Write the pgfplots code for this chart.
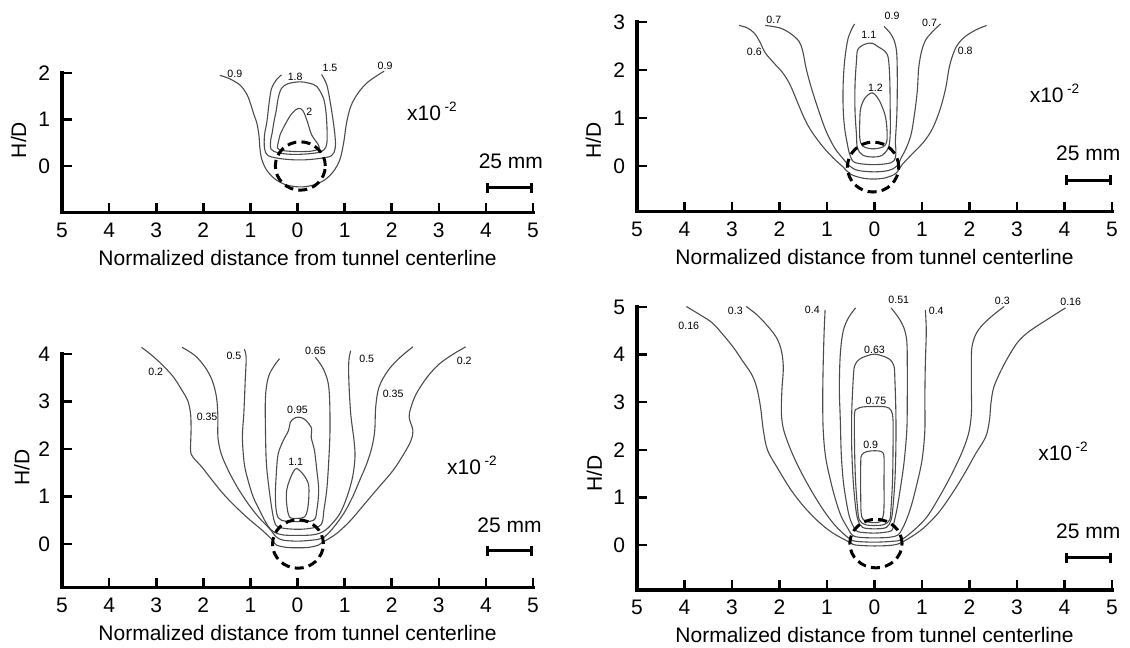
\documentclass[border=0pt]{standalone}
\usepackage{fontspec}
\setmainfont{Liberation Sans}
\usepackage{pgfplots}
\pgfplotsset{compat=1.18}
\usetikzlibrary{arrows.meta}

\pgfplotsset{
  panel/.style={
    scale only axis,
    xmin=-5, xmax=5,
    axis x line=bottom, axis y line=left,
    axis line style={-, line width=1.7pt, line cap=rect},
    xtick={-5,...,5},
    xticklabels={5,4,3,2,1,0,1,2,3,4,5},
    tick align=inside,
    major tick length=4.8pt,
    every tick/.style={black, line width=1.3pt},
    minor tick num=0,
    tick label style={font=\fontsize{10.5}{12}\selectfont},
    /pgf/number format/assume math mode=true,
    xticklabel style={yshift=-1.5pt},
    yticklabel style={xshift=-2.5pt},
    xlabel={Normalized distance from tunnel centerline},
    xlabel style={at={(axis description cs:0.5,0)}, anchor=center, yshift=-22.6pt},
    ylabel={H/D},
    label style={font=\fontsize{10.5}{12}\selectfont},
    clip=false,
  },
  contour/.style={black!70, line width=0.55pt, smooth, tension=0.55, mark=none, forget plot},
  scalebar/.style={black, line width=1.5pt, {Bar[width=5pt]}-{Bar[width=5pt]}, forget plot},
}
\tikzset{
  tunnel/.style={black, line width=1.5pt, dash pattern=on 4.5pt off 2.6pt},
  clab/.style={font=\fontsize{5.3}{6}\selectfont, inner sep=0pt, text=black},
  big/.style={font=\fontsize{10.5}{12}\selectfont, inner sep=0pt},
}
\newcommand{\scalefactor}[2]{\node[big, anchor=west] at (axis cs:#1,#2) {x10\,\raisebox{0.42em}{\fontsize{6.8}{7}\selectfont -2}};}

\begin{document}
\begin{tikzpicture}

% ---------------- top left ----------------
\begin{axis}[panel, at={(31pt,217.75pt)}, anchor=south west,
  width=235.5pt, height=69.75pt, ymin=-1, ymax=2, ytick={0,1,2},
  ylabel style={at={(axis description cs:-0.092,0.52)}, anchor=center}]
\addplot[contour] coordinates {(-1.65,1.95) (-1.45,1.88) (-1.22,1.74) (-1.08,1.55) (-1.01,1.38) (-0.93,1.12) (-0.87,0.95) (-0.82,0.67) (-0.80,0.40) (-0.76,0.15) (-0.66,-0.08) (-0.49,-0.27) (-0.26,-0.40) (0.03,-0.45) (0.30,-0.42) (0.56,-0.31) (0.76,-0.12) (0.90,0.14) (0.98,0.50) (1.04,0.92) (1.13,1.28) (1.28,1.56) (1.50,1.81) (1.84,2.04)};
\addplot[contour] coordinates {(-0.34,1.96) (-0.45,1.85) (-0.55,1.67) (-0.60,1.38) (-0.65,0.95) (-0.70,0.67) (-0.70,0.38) (-0.62,0.22) (-0.30,0.15) (0.08,0.13) (0.45,0.16) (0.72,0.22) (0.80,0.38) (0.80,0.60) (0.76,0.95) (0.69,1.40) (0.62,1.75) (0.51,1.97)};
\addplot[contour, smooth cycle] coordinates {(-0.34,1.67) (-0.20,1.77) (0.05,1.81) (0.25,1.78) (0.41,1.71) (0.55,1.46) (0.60,1.20) (0.62,0.95) (0.63,0.60) (0.60,0.40) (0.48,0.30) (0.20,0.26) (-0.10,0.25) (-0.40,0.28) (-0.56,0.36) (-0.57,0.55) (-0.54,0.70) (-0.50,0.95) (-0.45,1.20) (-0.41,1.46)};
\addplot[contour, smooth cycle] coordinates {(0.02,1.24) (0.12,1.18) (0.21,0.95) (0.30,0.67) (0.44,0.46) (0.45,0.37) (0.30,0.32) (0,0.31) (-0.30,0.33) (-0.42,0.38) (-0.40,0.55) (-0.37,0.67) (-0.27,0.88) (-0.12,1.13)};
\draw[tunnel] (axis cs:0.06,0) ellipse [x radius=0.53, y radius=0.52];
\node[clab] at (axis cs:-1.33,1.99) {0.9};
\node[clab] at (axis cs:-0.05,1.92) {1.8};
\node[clab] at (axis cs:0.69,2.10) {1.5};
\node[clab] at (axis cs:1.86,2.15) {0.9};
\node[clab] at (axis cs:0.25,1.17) {2};
\scalefactor{2.32}{1.17}
\node[big] at (axis cs:4.53,0.11) {25 mm};
\addplot[scalebar] coordinates {(4,-0.47) (5,-0.47)};
\end{axis}

% ---------------- top right ----------------
\begin{axis}[panel, at={(318.5pt,218.15pt)}, anchor=south west,
  width=237.5pt, height=94.8pt, ymin=-0.95, ymax=3, ytick={0,1,2,3},
  ylabel style={at={(axis description cs:-0.092,0.377)}, anchor=center}]
\addplot[contour] coordinates {(-2.85,2.93) (-2.68,2.88) (-2.53,2.77) (-2.42,2.60) (-2.30,2.36) (-2.12,2.15) (-1.93,1.94) (-1.78,1.70) (-1.63,1.35) (-1.48,1.00) (-1.33,0.73) (-1.10,0.42) (-0.87,0.17) (-0.66,-0.02) (-0.50,-0.17) (-0.25,-0.25) (0,-0.27) (0.25,-0.24) (0.45,-0.15) (0.59,0.04) (0.82,0.28) (1.05,0.52) (1.23,0.80) (1.39,1.21) (1.50,1.63) (1.57,2.04) (1.65,2.32) (1.75,2.53) (1.91,2.70) (2.14,2.84) (2.36,2.93)};
\addplot[contour] coordinates {(-2.30,2.93) (-2.00,2.88) (-1.78,2.77) (-1.59,2.60) (-1.51,2.39) (-1.44,2.04) (-1.33,1.63) (-1.17,1.14) (-1.02,0.73) (-0.84,0.38) (-0.65,0.14) (-0.52,0.0) (-0.35,-0.09) (0,-0.12) (0.30,-0.09) (0.47,0.0) (0.56,0.17) (0.67,0.38) (0.77,0.66) (0.84,1.07) (0.90,1.56) (0.93,2.04) (0.99,2.39) (1.08,2.63) (1.23,2.81) (1.39,2.96)};
\addplot[contour] coordinates {(-0.42,2.96) (-0.50,2.81) (-0.57,2.60) (-0.63,2.18) (-0.66,1.70) (-0.66,1.21) (-0.63,0.80) (-0.57,0.45) (-0.51,0.21) (-0.40,0.07) (0,0.03) (0.35,0.07) (0.44,0.18) (0.45,0.35) (0.44,0.52) (0.47,1.07) (0.48,1.70) (0.47,2.32) (0.42,2.60) (0.33,2.77) (0.20,2.91)};
\addplot[contour, smooth cycle] coordinates {(-0.05,2.56) (0.07,2.49) (0.22,2.39) (0.29,2.25) (0.32,1.84) (0.33,1.21) (0.33,0.66) (0.29,0.38) (0.15,0.22) (-0.05,0.19) (-0.25,0.23) (-0.36,0.38) (-0.38,0.66) (-0.41,1.14) (-0.41,1.70) (-0.38,2.18) (-0.35,2.43) (-0.20,2.54)};
\addplot[contour, smooth cycle] coordinates {(0.0,1.50) (0.11,1.35) (0.22,1.07) (0.26,0.80) (0.26,0.52) (0.18,0.40) (-0.05,0.36) (-0.25,0.42) (-0.31,0.59) (-0.31,0.94) (-0.29,1.21) (-0.20,1.42) (-0.08,1.52)};
\draw[tunnel] (axis cs:-0.03,-0.02) ellipse [x radius=0.54, y radius=0.52];
\node[clab] at (axis cs:-2.12,3.05) {0.7};
\node[clab] at (axis cs:-2.53,2.38) {0.6};
\node[clab] at (axis cs:-0.12,2.74) {1.1};
\node[clab] at (axis cs:0.37,3.12) {0.9};
\node[clab] at (axis cs:1.16,2.98) {0.7};
\node[clab] at (axis cs:1.91,2.40) {0.8};
\node[clab] at (axis cs:0.02,1.64) {1.2};
\scalefactor{3.26}{1.51}
\node[big] at (axis cs:4.5,0.27) {25 mm};
\addplot[scalebar] coordinates {(4,-0.30) (5,-0.30)};
\end{axis}

% ---------------- bottom left ----------------
\begin{axis}[panel, at={(31pt,30.15pt)}, anchor=south west,
  width=235.5pt, height=116.85pt, ymin=-0.92, ymax=4, ytick={0,1,2,3,4},
  ylabel style={at={(axis description cs:-0.085,0.516)}, anchor=center}]
\addplot[contour] coordinates {(-3.31,4.14) (-3.09,3.97) (-2.86,3.76) (-2.63,3.51) (-2.45,3.23) (-2.33,3.02) (-2.27,2.74) (-2.26,2.39) (-2.27,1.97) (-2.22,1.83) (-2.03,1.62) (-1.81,1.34) (-1.58,1.06) (-1.35,0.82) (-1.05,0.54) (-0.75,0.29) (-0.53,0.08) (-0.45,-0.02) (-0.25,-0.07) (0,-0.08) (0.25,-0.07) (0.45,-0.02) (0.56,0.05) (0.83,0.22) (1.13,0.50) (1.43,0.85) (1.73,1.20) (2.03,1.55) (2.26,1.90) (2.41,2.18) (2.45,2.39) (2.37,2.67) (2.41,2.88) (2.52,3.16) (2.75,3.51) (3.01,3.79) (3.31,4.00) (3.57,4.15)};
\addplot[contour] coordinates {(-2.45,4.14) (-2.18,3.97) (-1.96,3.72) (-1.81,3.44) (-1.72,3.09) (-1.69,2.67) (-1.69,2.25) (-1.62,1.90) (-1.47,1.55) (-1.28,1.20) (-1.05,0.85) (-0.83,0.57) (-0.60,0.33) (-0.45,0.15) (-0.30,0.08) (0,0.06) (0.30,0.08) (0.45,0.10) (0.56,0.14) (0.75,0.33) (0.98,0.64) (1.17,0.99) (1.32,1.34) (1.47,1.69) (1.58,2.04) (1.64,2.39) (1.66,2.88) (1.73,3.30) (1.92,3.65) (2.18,3.93) (2.45,4.15)};
\addplot[contour] coordinates {(-1.13,4.10) (-1.09,3.93) (-1.11,3.44) (-1.14,2.74) (-1.17,2.25) (-1.13,1.69) (-1.05,1.34) (-0.94,0.99) (-0.79,0.68) (-0.64,0.40) (-0.50,0.25) (-0.30,0.19) (0,0.18) (0.30,0.19) (0.48,0.23) (0.60,0.30) (0.71,0.40) (0.90,0.64) (1.05,0.99) (1.17,1.41) (1.22,1.83) (1.20,2.18) (1.13,2.74) (1.09,3.44) (1.09,3.86) (1.13,4.07)};
\addplot[contour] coordinates {(-0.38,3.90) (-0.49,3.76) (-0.62,3.51) (-0.68,3.09) (-0.68,2.39) (-0.66,1.69) (-0.60,1.13) (-0.54,0.71) (-0.49,0.47) (-0.42,0.36) (-0.20,0.32) (0,0.31) (0.20,0.32) (0.45,0.37) (0.53,0.47) (0.56,0.71) (0.62,1.13) (0.66,1.69) (0.69,2.39) (0.68,3.09) (0.64,3.44) (0.53,3.72) (0.38,3.93)};
\addplot[contour, smooth cycle] coordinates {(-0.04,2.66) (0.08,2.66) (0.19,2.59) (0.30,2.43) (0.29,2.25) (0.36,1.97) (0.41,1.55) (0.45,1.13) (0.41,0.71) (0.34,0.50) (0,0.47) (-0.34,0.50) (-0.44,0.64) (-0.47,0.99) (-0.45,1.48) (-0.41,1.90) (-0.30,2.18) (-0.19,2.39) (-0.15,2.57)};
\addplot[contour, smooth cycle] coordinates {(-0.02,1.59) (0.11,1.48) (0.23,1.27) (0.24,0.99) (0.21,0.71) (0.15,0.57) (0,0.54) (-0.17,0.57) (-0.23,0.85) (-0.23,1.13) (-0.17,1.34) (-0.09,1.52)};
\draw[tunnel] (axis cs:0.01,0) ellipse [x radius=0.54, y radius=0.51];
\node[clab] at (axis cs:-3.01,3.62) {0.2};
\node[clab] at (axis cs:-1.92,2.67) {0.35};
\node[clab] at (axis cs:-1.35,3.97) {0.5};
\node[clab] at (axis cs:0.38,4.07) {0.65};
\node[clab] at (axis cs:1.47,3.90) {0.5};
\node[clab] at (axis cs:2.03,3.16) {0.35};
\node[clab] at (axis cs:3.54,3.86) {0.2};
\node[clab] at (axis cs:0,2.83) {0.95};
\node[clab] at (axis cs:-0.04,1.73) {1.1};
\scalefactor{3.17}{1.66}
\node[big] at (axis cs:4.5,0.40) {25 mm};
\addplot[scalebar] coordinates {(4,-0.14) (5,-0.14)};
\end{axis}

% ---------------- bottom right ----------------
\begin{axis}[panel, at={(318.5pt,29pt)}, anchor=south west,
  width=237.5pt, height=141.5pt, ymin=-0.945, ymax=5, ytick={0,1,2,3,4,5},
  ylabel style={at={(axis description cs:-0.09,0.413)}, anchor=center}]
\addplot[contour] coordinates {(-3.96,5.01) (-3.68,4.84) (-3.42,4.67) (-3.19,4.42) (-2.97,4.15) (-2.78,3.87) (-2.59,3.59) (-2.48,3.31) (-2.40,2.90) (-2.34,2.41) (-2.25,1.99) (-2.02,1.58) (-1.76,1.16) (-1.49,0.81) (-1.19,0.50) (-0.89,0.26) (-0.51,0.05) (-0.40,0.0) (0,-0.02) (0.40,0.0) (0.62,0.08) (1.00,0.33) (1.34,0.67) (1.64,1.09) (1.90,1.51) (2.13,1.92) (2.34,2.27) (2.42,2.62) (2.45,2.97) (2.51,3.31) (2.66,3.66) (2.85,4.01) (3.03,4.28) (3.26,4.49) (3.64,4.74) (4.02,4.98)};
\addplot[contour] coordinates {(-2.70,5.01) (-2.48,4.84) (-2.25,4.60) (-2.06,4.35) (-1.96,4.08) (-1.92,3.73) (-1.95,3.24) (-1.96,2.76) (-1.91,2.41) (-1.76,1.99) (-1.57,1.58) (-1.34,1.16) (-1.08,0.74) (-0.82,0.40) (-0.55,0.15) (-0.40,0.08) (0,0.06) (0.40,0.08) (0.58,0.12) (0.85,0.33) (1.11,0.60) (1.37,1.02) (1.60,1.44) (1.83,1.92) (1.98,2.34) (2.04,2.76) (2.04,3.24) (2.04,3.80) (2.05,4.15) (2.13,4.42) (2.28,4.63) (2.51,4.84) (2.73,5.01)};
\addplot[contour] coordinates {(-1.04,4.94) (-1.06,4.49) (-1.08,3.80) (-1.09,3.10) (-1.08,2.41) (-1.03,1.85) (-0.93,1.37) (-0.82,0.95) (-0.70,0.60) (-0.55,0.33) (-0.46,0.20) (-0.30,0.16) (0,0.15) (0.30,0.16) (0.48,0.20) (0.54,0.26) (0.66,0.50) (0.77,0.81) (0.88,1.23) (1.00,1.78) (1.06,2.41) (1.06,3.10) (1.07,3.80) (1.09,4.49) (1.07,4.94)};
\addplot[contour] coordinates {(-0.40,4.98) (-0.55,4.77) (-0.66,4.49) (-0.72,4.01) (-0.74,3.31) (-0.72,2.62) (-0.70,1.92) (-0.66,1.37) (-0.60,0.95) (-0.53,0.60) (-0.44,0.38) (-0.35,0.28) (0,0.25) (0.30,0.28) (0.38,0.33) (0.41,0.47) (0.47,0.74) (0.54,1.16) (0.62,1.72) (0.68,2.41) (0.69,3.10) (0.69,3.80) (0.68,4.28) (0.62,4.56) (0.51,4.77) (0.35,4.98)};
\addplot[contour, smooth cycle] coordinates {(0,4.01) (0.17,3.97) (0.32,3.90) (0.41,3.76) (0.43,3.45) (0.45,2.76) (0.45,2.06) (0.43,1.37) (0.39,0.81) (0.35,0.53) (0.25,0.37) (0,0.34) (-0.25,0.37) (-0.35,0.53) (-0.40,0.81) (-0.45,1.37) (-0.48,2.06) (-0.48,2.76) (-0.45,3.45) (-0.42,3.76) (-0.32,3.90) (-0.17,3.97)};
\addplot[contour, smooth cycle] coordinates {(0,2.91) (0.24,2.90) (0.35,2.83) (0.39,2.62) (0.39,2.06) (0.38,1.37) (0.35,0.81) (0.32,0.53) (0.20,0.43) (0,0.41) (-0.20,0.43) (-0.32,0.53) (-0.36,0.81) (-0.40,1.37) (-0.42,2.06) (-0.42,2.76) (-0.36,2.86) (-0.25,2.90)};
\addplot[contour, smooth cycle] coordinates {(0,1.98) (0.15,1.96) (0.20,1.85) (0.20,1.37) (0.20,0.81) (0.18,0.60) (0.12,0.49) (0,0.47) (-0.15,0.49) (-0.27,0.60) (-0.29,1.02) (-0.29,1.72) (-0.27,1.89) (-0.17,1.96)};
\draw[tunnel] (axis cs:0.03,0.03) ellipse [x radius=0.55, y radius=0.51];
\node[clab] at (axis cs:-3.91,4.60) {0.16};
\node[clab] at (axis cs:-2.93,4.91) {0.3};
\node[clab] at (axis cs:-1.31,4.94) {0.4};
\node[clab] at (axis cs:0.51,5.15) {0.51};
\node[clab] at (axis cs:1.30,4.91) {0.4};
\node[clab] at (axis cs:2.69,5.13) {0.3};
\node[clab] at (axis cs:4.13,5.10) {0.16};
\node[clab] at (axis cs:0,4.11) {0.63};
\node[clab] at (axis cs:0.03,3.03) {0.75};
\node[clab] at (axis cs:-0.08,2.11) {0.9};
\scalefactor{3.44}{1.96}
\node[big] at (axis cs:4.5,0.29) {25 mm};
\addplot[scalebar] coordinates {(4,-0.27) (5,-0.27)};
\end{axis}

\pgfresetboundingbox
\useasboundingbox (0,0) rectangle (565pt,324pt);
\end{tikzpicture}
\end{document}
